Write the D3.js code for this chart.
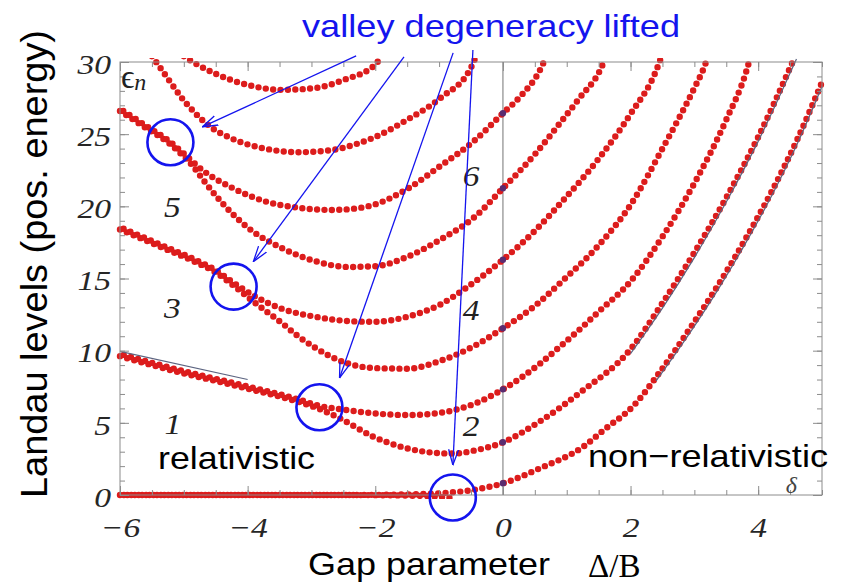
<!DOCTYPE html>
<html>
<head>
<meta charset="utf-8">
<script src="https://cdn.jsdelivr.net/npm/d3@7"></script>
<style>
  body { margin: 0; background: #fff; }
  svg { display: block; }
</style>
</head>
<body>
<script>
// Landau level branches, points as [gap parameter Δ/B, ε_n]
const branch0 = [[-6,0],[-5,0],[-4,0],[-3,0],[-2,0.01],[-1.5,0.04],[-1,0.12],[-0.5,0.33],[0,0.81],[0.58,1.85],[1.26,3.35],[1.58,4.5],[2.05,6.2],[2.44,8.4],[2.94,11.6],[3.38,14.6],[3.81,17.8],[4.22,21.1],[4.62,24.7],[5,28.6]];
const branch0Partner = [[-6,0],[-5,0],[-4,0],[-3,0],[-2,-0.01],[-1.5,-0.04],[-1.1,-0.1],[-0.8,-0.2]];
const branch1 = [[-6,9.62],[-5.5,9.0],[-5,8.42],[-4.5,7.9],[-4,7.36],[-3.5,6.82],[-3.2,6.45],[-2.9,6.0],[-2.55,5.3],[-2.03,4.04],[-1.5,3.23],[-1.0,2.9],[-0.77,2.87],[-0.46,3.07],[0,3.65],[0.58,5.1],[1.21,7.1],[2.0,10.1],[2.5,13.3],[3.0,16.8],[3.5,20.6],[4.0,24.8],[4.51,29.7],[4.56,30.2]];
const branch2 = [[-6,9.78],[-5.5,9.16],[-5,8.58],[-4.5,8.05],[-4,7.52],[-3.5,6.98],[-3.2,6.62],[-2.9,6.2],[-2.55,5.95],[-2.03,5.66],[-1.5,5.54],[-0.98,5.7],[-0.46,6.3],[0,7.32],[0.58,9.1],[0.9,10.3],[1.21,11.5],[1.5,12.7],[2.0,14.8],[2.5,17.9],[3.0,21.6],[3.5,26.0],[3.81,29.3],[3.87,30.2]];
const branch3 = [[-6,18.4],[-5.29,17.05],[-4.8,16.1],[-4.51,15.45],[-4.22,14.5],[-3.88,13.3],[-3.46,11.9],[-3.2,10.97],[-2.94,10.2],[-2.68,9.55],[-2.42,9.1],[-2.03,8.8],[-1.5,8.75],[-0.98,9.3],[-0.46,10.3],[0,11.55],[0.5,13.1],[0.9,14.7],[1.5,17.3],[2.0,20.1],[2.5,24.0],[3.0,28.2],[3.15,29.6],[3.2,30.2]];
const branch4 = [[-6,18.55],[-5.29,17.2],[-4.8,16.25],[-4.51,15.6],[-4.22,14.7],[-3.88,13.75],[-3.46,12.9],[-2.94,12.35],[-2.42,12.05],[-2.03,12.0],[-1.5,12.35],[-0.98,13.2],[-0.56,14.4],[0,16.3],[0.5,18.3],[0.9,20.2],[1.5,23.3],[2.0,26.4],[2.41,29.5],[2.47,30.2]];
const branch5 = [[-6,26.6],[-5.6,25.45],[-5.21,24.3],[-5.0,23.45],[-4.87,22.85],[-4.69,21.8],[-4.51,20.8],[-3.99,18.5],[-3.46,17.1],[-2.94,16.2],[-2.42,15.8],[-2.0,15.85],[-1.5,16.5],[-0.98,17.7],[-0.46,19.2],[0,21.25],[0.5,23.6],[0.9,25.8],[1.2,27.5],[1.53,29.5],[1.6,30.2]];
const branch6 = [[-6,26.75],[-5.6,25.6],[-5.21,24.45],[-5.0,23.65],[-4.72,22.55],[-4.25,21.3],[-3.73,20.35],[-3.2,19.9],[-2.68,19.75],[-2.31,19.85],[-2.03,20.1],[-1.5,21.2],[-0.98,22.8],[-0.46,24.5],[0,26.45],[0.27,27.6],[0.61,29.7],[0.66,30.2]];
const branch7 = [[-5.5,30.4],[-5.4,29.8],[-5.21,28.6],[-5.03,27.5],[-4.82,26.45],[-4.61,25.6],[-4.25,24.7],[-3.73,24.0],[-3.2,23.75],[-2.68,23.9],[-2.31,24.3],[-2.03,24.75],[-1.5,26.0],[-0.98,27.5],[-0.49,29.7],[-0.44,30.2]];
const branch8 = [[-5.0,30.4],[-4.82,29.9],[-4.51,29.2],[-3.99,28.4],[-3.46,28.07],[-2.94,28.2],[-2.5,28.75],[-1.98,29.9],[-1.94,30.2]];

// levels exactly at Δ = 0
const levelsAtZeroGap = [0.81, 3.65, 7.32, 11.55, 16.3, 21.25, 26.45];

// limiting forms: relativistic (left) and non-relativistic (right)
const relativisticLimit = [[-6,9.95],[-4,8.0]];
const nonRelLimit1 = [[2.0,9.8],[2.5,12.95],[3.0,16.45],[3.5,20.3],[4.0,24.5],[4.6,30.2]];
const nonRelLimit0 = [[2.4,7.9],[2.94,11.3],[3.38,14.3],[3.81,17.5],[4.22,20.8],[4.62,24.4],[5,28.3]];

// axis ticks
const xMajorTicks = [-6,-4,-2,0,2,4];
const yMajorTicks = [0,5,10,15,20,25,30];

// level labels, region labels and marked splittings (data coordinates)
const levelLabels = [
  {t:"5", x:-5.18, y:19.95}, {t:"3", x:-5.18, y:12.96}, {t:"1", x:-5.17, y:4.92},
  {t:"6", x:-0.50, y:22.1},  {t:"4", x:-0.50, y:12.82}, {t:"2", x:-0.50, y:4.78}
];
const splittings = [[-5.21,24.44],[-4.22,14.44],[-2.875,6.08],[-0.785,-0.17]];
const arrowTails = [[-2.30,30.42],[-1.55,30.35],[-0.78,30.63],[-0.47,30.83]];
const arrowTips  = [[-4.71,25.5],[-3.91,16.17],[-2.56,8.11],[-0.784,2.08]];

const W = 841, H = 584;
const BLUE = "#1414ee", RED = "#dc1c1c", AXIS = "#8c8c8c";

const svg = d3.select("body").append("svg").attr("width", W).attr("height", H);
const x = d3.scaleLinear().domain([-6, 5]).range([120, 822]);
const y = d3.scaleLinear().domain([0, 30]).range([495, 62]);

svg.append("defs").append("clipPath").attr("id", "plotClip")
  .append("rect").attr("x", 116).attr("y", 58).attr("width", 710).attr("height", 441);
const arrowHead = svg.select("defs").append("marker")
  .attr("id", "vhead").attr("viewBox", "0 -7 16 14").attr("refX", 15.5).attr("refY", 0)
  .attr("markerWidth", 16).attr("markerHeight", 14).attr("markerUnits", "userSpaceOnUse")
  .attr("orient", "auto");
arrowHead.append("path").attr("d", "M0,-5 L15.5,0 L0,5").attr("fill", "none")
  .attr("stroke", BLUE).attr("stroke-width", 1.3);

// stretch helper for the wide-set lettering
function widen(sel, k) {
  sel.each(function () {
    const w = this.getComputedTextLength();
    d3.select(this).attr("textLength", w * k).attr("lengthAdjust", "spacingAndGlyphs");
  });
}

// Δ = 0 guide line
svg.append("line").attr("x1", x(0)).attr("x2", x(0)).attr("y1", y(0)).attr("y2", y(30))
  .attr("stroke", "#a8a8a8").attr("stroke-width", 1.6);

// dotted level curves
const line = d3.line().x(d => x(d[0])).y(d => y(d[1])).curve(d3.curveMonotoneX);
const plot = svg.append("g").attr("clip-path", "url(#plotClip)");
const branches = [
  {d: branch0, off: 0}, {d: branch0Partner, off: 3.5},
  {d: branch1, off: 0}, {d: branch2, off: 3.5},
  {d: branch3, off: 0}, {d: branch4, off: 3.5},
  {d: branch5, off: 0}, {d: branch6, off: 3.5},
  {d: branch7, off: 0}, {d: branch8, off: 0}
];
plot.selectAll("path.level").data(branches).join("path")
  .attr("class", "level")
  .attr("d", b => line(b.d))
  .attr("fill", "none")
  .attr("stroke", RED)
  .attr("stroke-width", 6.4)
  .attr("stroke-linecap", "round")
  .attr("stroke-dasharray", "0 7.4")
  .attr("stroke-dashoffset", b => b.off);

// limiting-form lines
plot.selectAll("path.limit").data([relativisticLimit, nonRelLimit1, nonRelLimit0]).join("path")
  .attr("class", "limit")
  .attr("d", d => line(d))
  .attr("fill", "none")
  .attr("stroke", "#5c6480")
  .attr("stroke-width", 1.2);

// values at zero gap
plot.selectAll("circle.zero").data(levelsAtZeroGap).join("circle")
  .attr("class", "zero")
  .attr("cx", x(0)).attr("cy", d => y(d)).attr("r", 3.2)
  .attr("fill", "#5a2c70");

// frame with inward ticks on all four sides
const axes = svg.append("g");
function styleAxis(g) {
  g.select(".domain").remove();
  g.selectAll(".tick line").attr("stroke", AXIS).attr("stroke-width", 1);
}
const xMinor = d3.range(-6, 5.001, 0.5);
const yMinor = d3.range(0, 30.001, 1);
axes.append("g").attr("transform", `translate(0,${y(0)})`)
  .call(d3.axisBottom(x).tickValues(xMinor).tickSize(-5).tickFormat("")).call(styleAxis);
axes.append("g").attr("transform", `translate(0,${y(30)})`)
  .call(d3.axisTop(x).tickValues(xMinor).tickSize(-5).tickFormat("")).call(styleAxis);
axes.append("g").attr("transform", `translate(${x(-6)},0)`)
  .call(d3.axisLeft(y).tickValues(yMinor).tickSize(-5).tickFormat("")).call(styleAxis);
axes.append("g").attr("transform", `translate(${x(5)},0)`)
  .call(d3.axisRight(y).tickValues(yMinor).tickSize(-5).tickFormat("")).call(styleAxis);
axes.append("g").attr("transform", `translate(0,${y(30)})`)
  .call(d3.axisTop(x).tickValues(xMajorTicks).tickSize(-9).tickFormat("")).call(styleAxis);
axes.append("g").attr("transform", `translate(${x(5)},0)`)
  .call(d3.axisRight(y).tickValues(yMajorTicks).tickSize(-9).tickFormat("")).call(styleAxis);

const xAxis = axes.append("g").attr("transform", `translate(0,${y(0)})`)
  .call(d3.axisBottom(x).tickValues(xMajorTicks).tickSize(-9).tickPadding(22)).call(styleAxis);
const yAxis = axes.append("g").attr("transform", `translate(${x(-6)},0)`)
  .call(d3.axisLeft(y).tickValues(yMajorTicks).tickSize(-9).tickPadding(9)).call(styleAxis);
[xAxis, yAxis].forEach(g => {
  g.selectAll(".tick text")
    .attr("font-family", "'Liberation Serif', 'Times New Roman', serif")
    .attr("font-style", "italic")
    .attr("font-size", 28)
    .attr("fill", "#262626");
  widen(g.selectAll(".tick text"), 1.2);
});
yAxis.selectAll(".tick text").attr("dy", "0.4em");

axes.append("rect").attr("x", x(-6)).attr("y", y(30))
  .attr("width", x(5) - x(-6)).attr("height", y(0) - y(30))
  .attr("fill", "none").attr("stroke", AXIS).attr("stroke-width", 1);

// level indices
const serif = "'Liberation Serif', 'Times New Roman', serif";
svg.selectAll("text.lvl").data(levelLabels).join("text")
  .attr("class", "lvl")
  .attr("x", d => x(d.x)).attr("y", d => y(d.y)).attr("dy", "0.35em")
  .attr("text-anchor", "middle")
  .attr("font-family", serif).attr("font-style", "italic").attr("font-size", 29)
  .attr("fill", "#222")
  .text(d => d.t)
  .call(s => widen(s, 1.15));

// ε_n corner label and δ
const eps = svg.append("text").attr("x", x(-6) + 1).attr("y", 88)
  .attr("font-family", serif).attr("fill", "#222");
eps.append("tspan").attr("font-size", 33).text("ϵ");
eps.append("tspan").attr("font-size", 24).attr("font-style", "italic").attr("dy", 2).text("n");
svg.append("text").attr("x", x(4.52)).attr("y", 493)
  .attr("text-anchor", "middle").attr("font-family", serif).attr("font-style", "italic")
  .attr("font-size", 24).attr("fill", "#444").text("δ");

// regime and axis titles
const sans = "'Liberation Sans', Arial, Helvetica, sans-serif";
function sansText(str, px, py, size, len, fill) {
  return svg.append("text").attr("x", px).attr("y", py)
    .attr("font-family", sans).attr("font-size", size).attr("fill", fill || "#000")
    .attr("textLength", len).attr("lengthAdjust", "spacingAndGlyphs").text(str);
}
sansText("relativistic", 158, 469, 32, 157);
sansText("non\u2212relativistic", 588, 467, 32, 240);
sansText("Gap parameter", 308, 575, 32, 242);
sansText("valley degeneracy lifted", 302, 37, 32, 378, BLUE);
svg.append("text").attr("x", 588).attr("y", 577)
  .attr("font-family", serif).attr("font-size", 33).attr("fill", "#000").text("Δ/B");
svg.append("text")
  .attr("transform", "translate(47,264) rotate(-90)")
  .attr("text-anchor", "middle")
  .attr("font-family", sans).attr("font-size", 37).attr("fill", "#000")
  .attr("textLength", 468).attr("lengthAdjust", "spacingAndGlyphs")
  .text("Landau levels (pos. energy)");

// marked splittings with pointers from the annotation
svg.selectAll("circle.split").data(splittings).join("circle")
  .attr("class", "split")
  .attr("cx", d => x(d[0])).attr("cy", d => y(d[1])).attr("r", 23)
  .attr("fill", "none").attr("stroke", BLUE).attr("stroke-width", 2.6);
svg.selectAll("line.pointer").data(arrowTails).join("line")
  .attr("class", "pointer")
  .attr("x1", d => x(d[0])).attr("y1", d => y(d[1]))
  .attr("x2", (d, i) => x(arrowTips[i][0])).attr("y2", (d, i) => y(arrowTips[i][1]))
  .attr("stroke", BLUE).attr("stroke-width", 1.3)
  .attr("marker-end", "url(#vhead)");
</script>
</body>
</html>
